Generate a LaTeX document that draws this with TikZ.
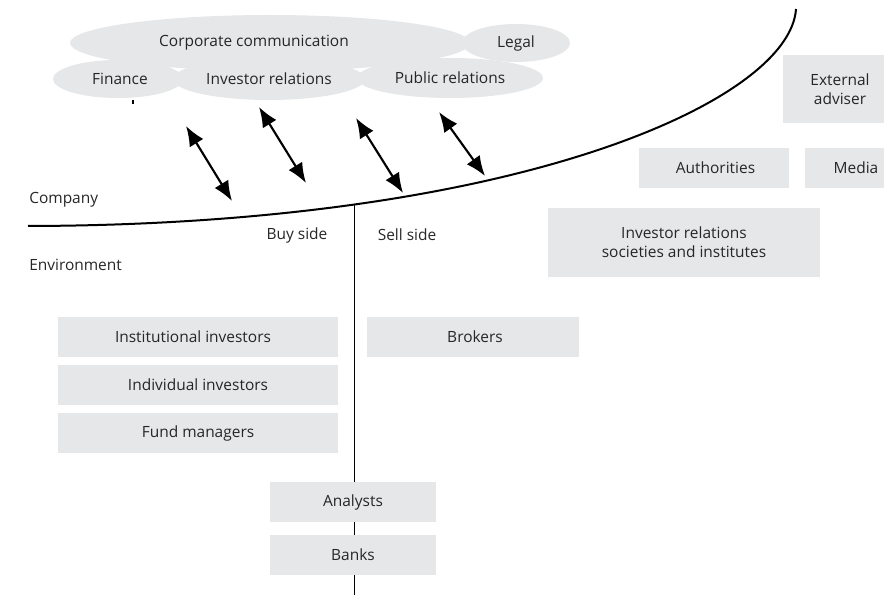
\documentclass[tikz,border=0pt]{standalone}
\usepackage{fontspec}
\setmainfont{Open Sans}
\usetikzlibrary{shapes,arrows.meta,calc}
\definecolor{shade}{HTML}{E6E7E8}
\definecolor{ink}{HTML}{262626}
\tikzstyle{dept}  = [ellipse, fill=shade, inner sep=0pt, text=ink]
\tikzstyle{party} = [rectangle, fill=shade, inner sep=0pt, text=ink, text centered, minimum height=30pt]
\tikzstyle{tag}   = [text=ink, inner sep=0pt]
\tikzstyle{ptr}   = [draw, {Latex[length=15pt,width=12pt]}-{Latex[length=15pt,width=12pt]}, line width=1.6pt]
\tikzstyle{border} = [draw, line width=1.5pt]

\begin{document}
\begin{tikzpicture}[x=0.75pt, y=-0.75pt, node distance=36pt, font=\fontsize{11.6}{14.25}\selectfont]

    \useasboundingbox (0,0) rectangle (884,595);
    \clip (0,0) rectangle (884,595);

    % company border and the buy/sell divide
    \draw[border] (28,226) .. controls (520,225) and (790,100) .. coordinate[pos=0.25] (split) (796,9);
    \coordinate (bottom) at (353,595);
    \draw[line width=1.1pt] (split) -- (split |- bottom);
    \fill (132.4,100.5) rectangle (134,104);

    % departments
    \node[dept, minimum width=300pt, minimum height=42pt]   (corp)  at (270,43)  {Corporate communication\kern24pt};
    \node[dept, minimum width=81pt, minimum height=28.5pt]  (legal) at (516,43)  {Legal};
    \node[dept, minimum width=97.5pt, minimum height=28.5pt] (fin)  at (118,79)  {\hspace{3pt}Finance};
    \node[dept, minimum width=144pt, minimum height=31.5pt] (irel)  at (269,79)  {Investor relations};
    \node[dept, minimum width=139.5pt, minimum height=30pt] (prel)  at (450,78)  {Public relations};

    \node[tag, anchor=west] (company) at (29,200) {Company};
    \node[tag, anchor=west] (env)     at (29,265) {Environment};
    \node[tag] (buyside)  at (297,235) {Buy side};
    \node[tag] (sellside) at (407,235) {Sell side};

    % environment
    \node[party, minimum width=210pt] (inst)  at (198,337) {Institutional investors\kern7.5pt};
    \node[party, minimum width=210pt, below of=inst]  (indiv) {Individual investors};
    \node[party, minimum width=210pt, below of=indiv] (fund)  {Fund managers};
    \node[party, minimum width=159pt] (brokers) at (473,337) {\hspace{3pt}Brokers};
    \node[party, minimum width=124.5pt] (analysts) at (353,502) {Analysts};
    \node[party, minimum width=124.5pt, below of=analysts, node distance=39.75pt] (banks) {Banks};
    \node[party, minimum width=112.5pt] (auth)  at (713.5,168) {\hspace{3pt}Authorities};
    \node[party, minimum width=76.5pt]  (media) at (856,168)   {Media};
    \node[party, minimum width=85.5pt, minimum height=51pt, align=center] (extadv) at (840,89) {External\\adviser};
    \node[party, minimum width=204pt, minimum height=51.75pt, align=center] (irsoc) at (684,242.5) {Investor relations\\societies and institutes};

    % exchange across the border
    \coordinate (a1) at (186,126);  \coordinate (b1) at (232,201);
    \coordinate (a2) at (259,107);  \coordinate (b2) at (306,183);
    \coordinate (a3) at (356,118);  \coordinate (b3) at (403,193);
    \coordinate (a4) at (439,112);  \coordinate (b4) at (485,176);
    \path[ptr] (a1) -- (b1);
    \path[ptr] (a2) -- (b2);
    \path[ptr] (a3) -- (b3);
    \path[ptr] (a4) -- (b4);

\end{tikzpicture}
\end{document}
